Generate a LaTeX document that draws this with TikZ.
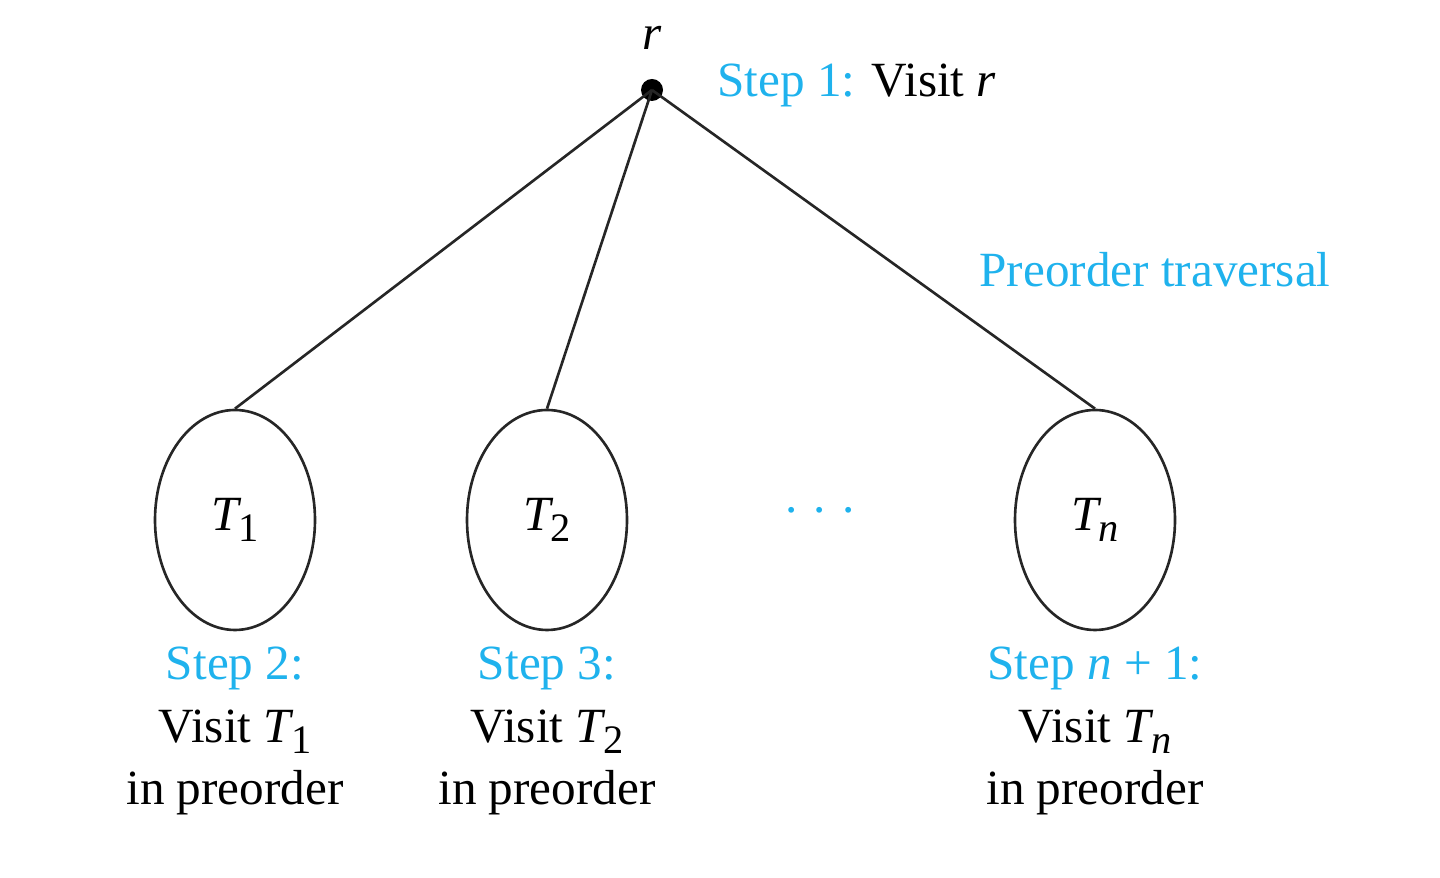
\documentclass[tikz,border=0pt]{standalone}
\usepackage{fontspec}
\setmainfont{Liberation Serif}
\usepackage{xcolor}
\definecolor{stepcyan}{rgb}{0.12,0.70,0.93}
\usetikzlibrary{shapes.geometric}
\usetikzlibrary{positioning}

\newcommand{\sub}[2]{\textit{#1}\kern-0.06em\raisebox{-0.5ex}{\fontsize{11.5}{12}\selectfont#2}}

\tikzset{
  subtree/.style={draw=black!85, ellipse, line width=0.75pt, minimum width=1.6cm, minimum height=2.2cm, inner sep=0pt},
  steplabel/.style={align=center, font=\fontsize{14}{17.8}\selectfont},
  edge/.style={draw=black!85, line width=0.75pt}
}

\begin{document}
\begin{tikzpicture}[font=\fontsize{14}{17.6}\selectfont]
\useasboundingbox (0,0) rectangle (14.4,8.78);

% root
\fill (6.52,7.88) circle (0.11);
\coordinate (root) at (6.52,7.88);
\node (rlabel) at (6.52,8.40) {\textit{r}};
\node[anchor=west] (step1) at (7.05,7.93) {\textcolor{stepcyan}{Step 1:} Visit \textit{r}};
\node[text=stepcyan] (title) at (11.55,6.08) {Preorder traversal};

% subtrees
\node[subtree] (t1) at (2.35,3.58) {\sub{T}{1}};
\node[subtree] (t2) at (5.47,3.58) {\sub{T}{2}};
\node[subtree] (tn) at (10.95,3.58) {\sub{T}{\textit{n}}};
\node[text=stepcyan] (dots) at (8.20,3.68) {.\,\,.\,\,.};

\draw[edge] (root) -- (t1.north);
\draw[edge] (root) -- (t2.north);
\draw[edge] (root) -- (tn.north);

% steps
\node[steplabel] (s2) at (2.35,1.47) {\textcolor{stepcyan}{Step 2:}\\Visit \sub{T}{1}\\in preorder};
\node[steplabel] (s3) at (5.47,1.47) {\textcolor{stepcyan}{Step 3:}\\Visit \sub{T}{2}\\in preorder};
\node[steplabel] (sn) at (10.95,1.47) {\textcolor{stepcyan}{Step \textit{n} + 1:}\\Visit \sub{T}{\textit{n}}\\in preorder};

\end{tikzpicture}
\end{document}
